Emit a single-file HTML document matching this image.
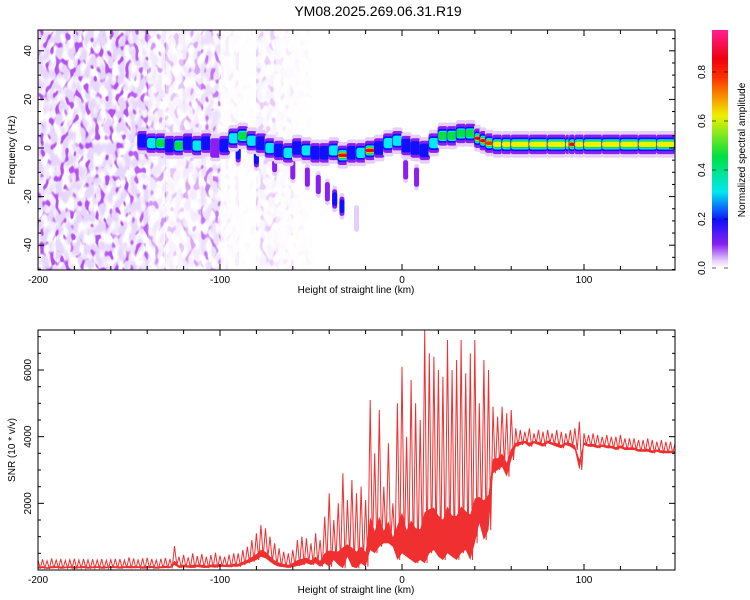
<!DOCTYPE html>
<html><head><meta charset="utf-8"><style>
html,body{margin:0;padding:0;background:#fff}
svg{display:block;font-family:"Liberation Sans",sans-serif}
</style></head><body>
<svg id="chart" width="750" height="600" viewBox="0 0 750 600">
<defs>
<filter id="speck" x="0" y="0" width="100%" height="100%">
<feTurbulence type="fractalNoise" baseFrequency="0.2 0.12" numOctaves="1" seed="7"/>
<feColorMatrix type="matrix" values="0 0 0 0 0.45  0 0 0 0 0.08  0 0 0 0 0.88  9 0 0 0 -5.0"/>
</filter>
<filter id="speck2" x="0" y="0" width="100%" height="100%">
<feTurbulence type="fractalNoise" baseFrequency="0.16 0.09" numOctaves="1" seed="2"/>
<feColorMatrix type="matrix" values="0 0 0 0 0.8  0 0 0 0 0.68  0 0 0 0 0.98  5 0 0 0 -1.9"/>
</filter>
<linearGradient id="cbar" x1="0" y1="1" x2="0" y2="0">
<stop offset="0" stop-color="#ffffff"/>
<stop offset="0.03" stop-color="#e6d0fb"/>
<stop offset="0.1" stop-color="#8a20f0"/>
<stop offset="0.2" stop-color="#1010ff"/>
<stop offset="0.32" stop-color="#00e8f0"/>
<stop offset="0.47" stop-color="#00e040"/>
<stop offset="0.64" stop-color="#f0f000"/>
<stop offset="0.8" stop-color="#ff3000"/>
<stop offset="0.88" stop-color="#f00010"/>
<stop offset="1" stop-color="#ff2090"/>
</linearGradient>
<clipPath id="clipTop"><rect x="38" y="30" width="637" height="240"/></clipPath>
<clipPath id="clipBot"><rect x="38" y="330" width="637" height="240"/></clipPath>
</defs>
<text x="378" y="16" text-anchor="middle" font-size="14">YM08.2025.269.06.31.R19</text>
<g id="gtop"></g>
<g id="gbot"></g>
<g id="gcb"></g>
</svg>
<script>
// ---------- data ----------
const noiseBinX = [-200,-190,-180,-170,-160,-150,-140,-130,-120,-110,-100,-90,-80,-70,-60,-50];
const noiseDensity = [1,1,1,1,1,0.9,0.55,0.3,0.45,0.75,0.08,0.02,0.25,0.1,0.03,0];
const ridgeX = [-145,-140,-135,-130,-125,-120,-115,-110,-105,-100,-95,-90,-85,-80,-75,-70,-65,-60,-55,-50,-45,-40,-35,-30,-25,-20,-15,-10,-5,0,5,10,15,20,25,30,35,40,43,46,50,55,60,70,80,90,92,95,100,110,120,130,140,150];
const ridgeF = [3,2,2,1,1,2,1,2,0,1,4,5,3,2,0,-1,-2,0,-1,-2,-2,-1,-3,-2,-2,-1,0,2,3,1,0,-1,2,5,5,6,6,4,3,2,1.5,1.5,1.5,1.5,1.5,1.5,1.5,1.5,1.5,1.5,1.5,1.5,1.5,1.5];
const ridgeA = [0.25,0.35,0.48,0.3,0.48,0.25,0.45,0.22,0.15,0.25,0.4,0.48,0.35,0.3,0.4,0.25,0.38,0.3,0.45,0.25,0.3,0.35,0.88,0.3,0.4,0.88,0.3,0.4,0.35,0.3,0.25,0.22,0.4,0.5,0.55,0.5,0.6,0.88,0.88,0.85,0.72,0.7,0.7,0.7,0.7,0.7,0.88,0.7,0.7,0.7,0.7,0.7,0.7,0.7];
const tailX = [-90,-80,-70,-60,-52,-46,-41,-37,-33,-25,2,8];
const tailF = [-2,-4,-6,-9,-12,-15,-18,-21,-24,-29,-9,-12];
const tailA = [0.22,0.25,0.18,0.18,0.15,0.18,0.15,0.2,0.2,0.05,0.12,0.1];
const freqTicks = [-40,-20,0,20,40];
const xTicks = [-200,-100,0,100];
const cbTicks = [0.0,0.2,0.4,0.6,0.8];
const snrX0 = -200, snrStep = 2.5;
const snrHi = [
 300,320,280,350,300,330,290,310,340,300,330,310,320,300,330,290,310,340,330,300,380,350,300,350,370,330,300,340,360,330,
 720,
 400,450,380,500,420,480,400,450,520,430,400,460,500,
 500,600,700,900,1100,1350,1250,1000,800,650,550,
 500,600,900,1000,950,800,1100,900,
 1600,2300,1500,2000,2900,2100,2700,2300,2500,2100,
 5100,3500,4800,2500,
 3800,2000,5000,
 6100,4000,5700,5000,4500,7200,
 6500,6400,6000,5800,6900,6000,6300,6900,5900,6500,6900,5000,6300,6000,
 4900,4600,4900,4700,4800,
 4250,4200,4150,4250,4100,4200,4150,4200,4100,4200,4150,4100,4200,4250,
 4450,
 4100,4050,4100,4050,4000,4050,4000,4000,4050,3950,3950,3950,3900,3900,3950,3900,3850,3900,3850,3850,3800];
const snrLo = [
 40,60,30,50,60,40,50,60,40,50,60,40,50,60,40,50,60,50,40,60,50,50,60,40,50,60,40,50,60,50,
 150,
 60,80,70,60,90,70,60,80,70,100,90,80,100,
 100,150,200,250,300,400,350,250,150,100,80,
 60,100,120,150,200,150,200,100,
 200,100,300,150,50,400,100,50,200,100,
 600,500,700,800,
 800,700,300,
 500,400,300,200,300,200,
 500,600,400,300,500,400,300,500,600,300,800,1400,900,1200,
 2900,3000,3100,2800,3300,
 3700,3750,3800,3700,3800,3750,3700,3800,3750,3700,3650,3750,3700,3600,
 3000,
 3750,3700,3700,3650,3700,3650,3650,3600,3650,3600,3600,3600,3550,3550,3550,3500,3550,3500,3500,3500,3500];
const snrTicks = [2000,4000,6000];
// ---------- axes ----------
const NS='http://www.w3.org/2000/svg';
const X0=38,X1=675;
const xs = v => X0 + (v+200)/350*(X1-X0);
const fy = f => 148 - f*2.43;
const sy = v => 570 - v*(240/7200);
const cy = a => 268 - a*245;
function el(tag, attrs, parent){const e=document.createElementNS(NS,tag);for(const k in attrs)e.setAttribute(k,attrs[k]);parent.appendChild(e);return e;}
function colorOf(a){
  const st=[[0,[255,255,255]],[0.03,[230,208,251]],[0.1,[138,32,240]],[0.2,[16,16,255]],[0.32,[0,232,240]],[0.47,[0,224,64]],[0.64,[240,240,0]],[0.8,[255,48,0]],[0.88,[240,0,16]],[1,[255,32,144]]];
  for(let i=1;i<st.length;i++){if(a<=st[i][0]){const t=(a-st[i-1][0])/(st[i][0]-st[i-1][0]);const c=st[i-1][1].map((v,j)=>Math.round(v+(st[i][1][j]-v)*t));return `rgb(${c})`;}}
  return 'rgb(255,32,144)';
}
const gTop=document.getElementById('gtop'), gBot=document.getElementById('gbot'), gCb=document.getElementById('gcb');
// ---------- spectrogram ----------
const gS = el('g',{'clip-path':'url(#clipTop)'},gTop);


noiseBinX.forEach((x,i)=>{
  if(noiseDensity[i]<=0) return;
  const w = xs(x+10)-xs(x);
  const r1 = el('rect',{x:xs(x),y:30,width:w+0.5,height:240,filter:'url(#speck2)',opacity:noiseDensity[i]},gS);
  
  
  const r2 = el('rect',{x:xs(x),y:30,width:w+0.5,height:240,filter:'url(#speck)',opacity:noiseDensity[i]},gS);
  
  
});
const levels=[[0.03,5.5],[0.1,4],[0.2,2.8],[0.32,2.1],[0.47,1.6],[0.64,1.1],[0.8,0.8],[0.88,0.6]];
function blob(x, w, f, a, name){
  levels.forEach(([lv,hw])=>{
    if(a<lv) return;
    const shrink = lv>0.3 ? 0.3 : 0;
    const r = el('rect',{x:xs(x)-w/2+shrink*2,y:fy(f+hw),width:Math.max(1,w-shrink*4),height:hw*2*2.43,rx:2.5,fill:colorOf(lv)},gS);
    
    
  });
}
tailX.forEach((x,i)=>blob(x, 5, tailF[i], tailA[i], 'tail-blob'));
ridgeX.forEach((x,i)=>{
  const nx = i<ridgeX.length-1 ? ridgeX[i+1] : 152;
  const w = (xs(nx)-xs(x))+1.5;
  blob(x+(nx-x)/2, w, ridgeF[i], ridgeA[i], 'ridge-cell');
});
// ---------- axes drawing ----------
function frame(g, y0, y1, name){
  const r=el('rect',{x:X0,y:y0,width:X1-X0,height:y1-y0,fill:'none',stroke:'#000','stroke-width':1},g);
  
  
  for(let v=-200; v<=150; v+=20){
    const x=xs(v), L = v%100===0?6:4;
    el('line',{x1:x,y1:y1,x2:x,y2:y1-L,stroke:'#000'},g);
    el('line',{x1:x,y1:y0,x2:x,y2:y0+L,stroke:'#000'},g);
  }
  xTicks.forEach(v=>{
    const t=el('text',{x:xs(v),y:y1+13,'text-anchor':'middle','font-size':10},g);
    t.textContent=v;
    
    
  });
  const xl=el('text',{x:356,y:y1+23,'text-anchor':'middle','font-size':10},g);
  xl.textContent='Height of straight line (km)';
  
  
}
frame(gTop,30,270,'spectrogram-frame');
for(let f=-50; f<=45; f+=5){
  const y=fy(f), L = f%20===0?6:3;
  el('line',{x1:X0,y1:y,x2:X0+L,y2:y,stroke:'#000'},gTop);
  el('line',{x1:X1,y1:y,x2:X1-L,y2:y,stroke:'#000'},gTop);
}
freqTicks.forEach(f=>{
  const t=el('text',{x:0,y:0,'text-anchor':'middle','font-size':10,transform:`translate(31,${fy(f)}) rotate(-90)`},gTop);
  t.textContent=f;
  
  
});
const yl=el('text',{x:0,y:0,'text-anchor':'middle','font-size':10,transform:'translate(15,150) rotate(-90)'},gTop);
yl.textContent='Frequency (Hz)';


// ---------- SNR ----------
const gB=el('g',{'clip-path':'url(#clipBot)'},gBot);
let up=[], dn=[], pts=[];
snrHi.forEach((h,i)=>{
  const x=snrX0+i*snrStep;
  const mid = snrLo[i] + 0.22*(h-snrLo[i]);
  up.push(xs(x).toFixed(1)+','+sy(mid).toFixed(1));
  dn.unshift(xs(x).toFixed(1)+','+sy(snrLo[i]).toFixed(1));
  pts.push(xs(x).toFixed(1)+','+sy(h).toFixed(1));
  pts.push(xs(x+snrStep/2).toFixed(1)+','+sy(snrLo[i]).toFixed(1));
});
const band=el('polygon',{points:up.concat(dn).join(' '),fill:'#f03030',stroke:'none'},gB);


const pl=el('polyline',{points:pts.join(' '),fill:'none',stroke:'#f03030','stroke-width':1},gB);


frame(gBot,330,570,'snr-frame');
for(let v=0; v<=7000; v+=500){
  const y=sy(v), L = v%2000===0?6:3;
  el('line',{x1:X0,y1:y,x2:X0+L,y2:y,stroke:'#000'},gBot);
  el('line',{x1:X1,y1:y,x2:X1-L,y2:y,stroke:'#000'},gBot);
}
snrTicks.forEach(v=>{
  const t=el('text',{x:0,y:0,'text-anchor':'middle','font-size':10,transform:`translate(31,${sy(v)}) rotate(-90)`},gBot);
  t.textContent=v;
  
  
});
const yl2=el('text',{x:0,y:0,'text-anchor':'middle','font-size':10,transform:'translate(15,450) rotate(-90)'},gBot);
yl2.textContent='SNR (10 * v/v)';


// ---------- colorbar ----------
const cr=el('rect',{x:712,y:30,width:16,height:238,fill:'url(#cbar)'},gCb);


cbTicks.forEach(a=>{
  el('line',{x1:712,y1:cy(a),x2:716,y2:cy(a),stroke:'#000','stroke-width':0.6},gCb);
  el('line',{x1:728,y1:cy(a),x2:724,y2:cy(a),stroke:'#000','stroke-width':0.6},gCb);
  const t=el('text',{x:0,y:0,'text-anchor':'middle','font-size':10,transform:`translate(705,${cy(a)}) rotate(-90)`},gCb);
  t.textContent=a.toFixed(1);
  
  
});
const ct=el('text',{x:0,y:0,'text-anchor':'middle','font-size':10,transform:'translate(745,150) rotate(-90)'},gCb);
ct.textContent='Normalized spectral amplitude';


</script>
</body></html>
